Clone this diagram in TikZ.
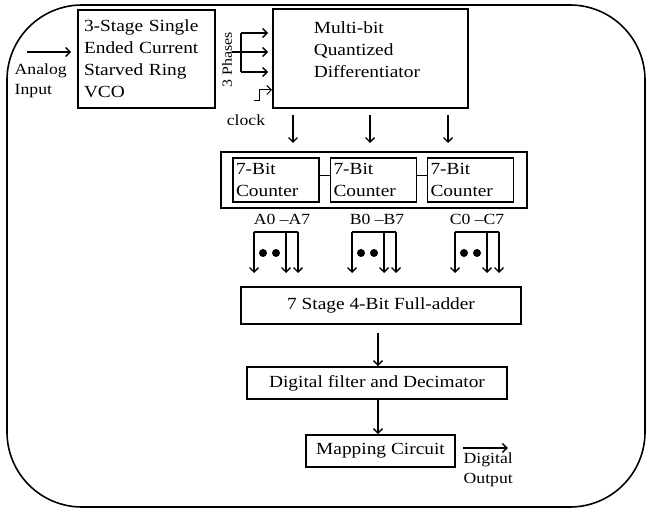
\documentclass[tikz,border=0pt]{standalone}
\usepackage{fontspec}
\setmainfont{Liberation Serif}[FakeStretch=1.14]
\usetikzlibrary{arrows.meta}

\begin{document}
\begin{tikzpicture}
        [
        x=1pt, y=-1pt,
        >={Straight Barb[length=4.5pt, width=9pt]},
        every path/.style={line width=1.4pt},
        block/.style={rectangle, draw, line width=1.6pt, inner sep=0pt, font=\fontsize{17}{22}\selectfont},
        counter/.style={block, minimum width=86, minimum height=44, text width=80, align=left},
        lbl/.style={font=\fontsize{15.5}{20}\selectfont, inner sep=0pt}
        ]
        \useasboundingbox (0,0) rectangle (648,510);

        % outer frame
        \node[draw, line width=1.6pt, rounded corners=75pt, minimum width=638, minimum height=502] (frame) at (326,256) {};

        % front end
        \node[block, minimum width=137, minimum height=98, text width=125, align=left] (vco) at (146.5,59)
            {3-Stage Single\\Ended Current\\Starved Ring\\VCO};
        \node[block, minimum width=195, minimum height=99] (qd) at (370.5,58.5) {};
        \node[block, draw=none, anchor=west, align=left] (qdtext) at (313,50) {Multi-bit\\Quantized\\Differentiator};

        \node[lbl, anchor=west, align=left] (ain) at (14,81) {Analog\\Input};
        \coordinate (ain0) at (27,52);
        \draw[->] (ain0) -- (ain0 -| vco.west) [shorten >=6pt];

        % 3 phases
        \coordinate (p1) at (241,33);
        \coordinate (p2) at (232,52);
        \coordinate (p3) at (241,72);
        \draw (p1) -- (p3);
        \foreach \p in {p1,p2,p3}
            \draw[->, shorten >=4pt] (\p) -- (\p -| qd.west);
        \node[lbl, rotate=90, font=\fontsize{14}{16}\selectfont] (ph) at (227,60) {3 Phases};

        % clock
        \coordinate (clk) at (254,101);
        \draw[->, line width=1pt] (clk) -- ++(5,0) -- ++(0,-11) -- ++(13,0);
        \node[lbl] (clktext) at (246,120) {clock};

        \foreach \x in {293,370,448}
            \draw[->] (\x,115) -- (\x,143);

        % counters
        \node[block, minimum width=306, minimum height=56] (cnt) at (374,180) {};
        \node[counter] (c1) at (276,180) {7-Bit\\Counter};
        \node[counter] (c2) at (373.5,180) {7-Bit\\Counter};
        \node[counter] (c3) at (470.5,180) {7-Bit\\Counter};
        \draw[line width=1pt] ([yshift=4pt]c1.east) -- ([yshift=4pt]c2.west);
        \draw[line width=1pt] ([yshift=4pt]c2.east) -- ([yshift=4pt]c3.west);

        \node[lbl] (busa) at (282,219) {A0 --A7};
        \node[lbl] (busb) at (377,219) {B0 --B7};
        \node[lbl] (busc) at (477,219) {C0 --C7};

        \foreach \a in {254,352,455} {
            \draw (\a,232) -- (\a+44,232);
            \foreach \d in {0,32,44}
                \draw[->] (\a+\d,232) -- (\a+\d,273);
            \fill (\a+9,253) circle (4) (\a+22,253) circle (4);
        }

        % back end
        \node[block, minimum width=280, minimum height=37] (add) at (381,305.5) {7 Stage 4-Bit Full-adder};
        \node[block, minimum width=260, minimum height=32] (filt) at (377,383) {Digital filter and Decimator};
        \node[block, minimum width=149, minimum height=32] (map) at (380.5,451) {Mapping Circuit};

        \draw[->, shorten <=8pt] (add.south -| 378,0) -- (filt.north -| 378,0);
        \draw[->] (filt.south -| 378,0) -- (map.north -| 378,0);
        \draw[->, shorten <=7pt] ([yshift=3pt]map.east) -- ++(52,0);
        \node[lbl, anchor=west, align=left] (dout) at (463,470) {Digital\\Output};

    \end{tikzpicture}
\end{document}
